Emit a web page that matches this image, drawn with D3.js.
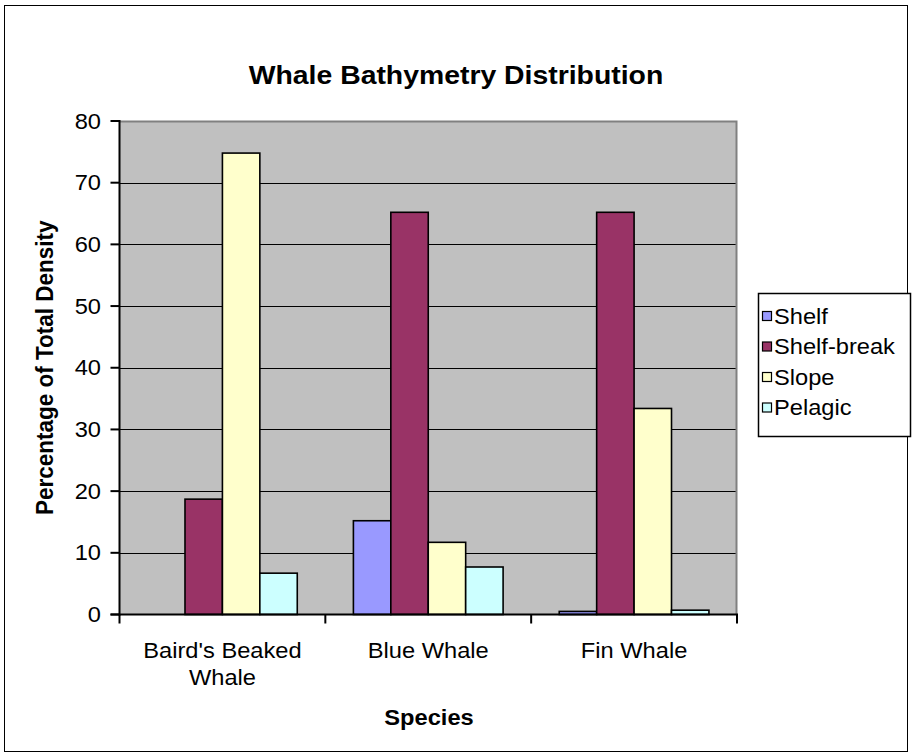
<!DOCTYPE html>
<html>
<head>
<meta charset="utf-8">
<script src="https://cdn.jsdelivr.net/npm/d3@7"></script>
<style>
  html, body { margin: 0; padding: 0; background: #fff; }
  svg { display: block; font-family: "Liberation Sans", Arial, sans-serif; }
</style>
</head>
<body>
<svg id="chart" width="912" height="755"></svg>
<script>
// Chart data
const species = ["Baird's Beaked Whale", "Blue Whale", "Fin Whale"];
const speciesLines = [["Baird's Beaked", "Whale"], ["Blue Whale"], ["Fin Whale"]];
const habitats = ["Shelf", "Shelf-break", "Slope", "Pelagic"];
const shelf = [0, 15.2, 0.5];
const shelfBreak = [18.7, 65.2, 65.2];
const slope = [74.8, 11.7, 33.4];
const pelagic = [6.7, 7.7, 0.7];
const yTicks = [0, 10, 20, 30, 40, 50, 60, 70, 80];
const colors = ["#9999FF", "#993366", "#FFFFCC", "#CCFFFF"];

const seriesValues = [shelf, shelfBreak, slope, pelagic];

const svg = d3.select("#chart");
const SX = 1.1;      // horizontal text stretch
const FS = 21.5;     // body text size
const FT = 25.8;     // title size

const plot = { left: 119.5, right: 737, top: 121, bottom: 614.5 };

const x = d3.scaleBand().domain(species).range([plot.left, plot.right]).paddingInner(0).paddingOuter(0);
const y = d3.scaleLinear().domain([0, 80]).range([plot.bottom, plot.top]);

// gap width 150% between groups
const barW = x.bandwidth() / (habitats.length + 1.5);
const groupOffset = barW * 0.75;

// outer chart border
svg.append("rect")
  .attr("x", 4.5).attr("y", 5.5).attr("width", 903).attr("height", 746)
  .attr("fill", "#fff").attr("stroke", "#000").attr("stroke-width", 1);

// plot background
svg.append("rect")
  .attr("x", plot.left).attr("y", plot.top)
  .attr("width", plot.right - plot.left).attr("height", plot.bottom - plot.top)
  .attr("fill", "#C0C0C0");

// gridlines
svg.append("g").selectAll("line")
  .data(yTicks.filter(t => t > 0 && t < 80))
  .join("line")
  .attr("x1", plot.left).attr("x2", plot.right)
  .attr("y1", d => Math.round(y(d)) + 0.5).attr("y2", d => Math.round(y(d)) + 0.5)
  .attr("stroke", "#000").attr("stroke-width", 1);

// top and right plot border
svg.append("path")
  .attr("d", `M${plot.left},${plot.top + 0.5}H${plot.right - 0.5}V${plot.bottom}`)
  .attr("fill", "none").attr("stroke", "#808080").attr("stroke-width", 2);

// bars
const rows = species.map((s, i) => habitats.map((h, j) => ({ s, h, j, v: seriesValues[j][i] })));
svg.append("g").selectAll("g")
  .data(rows)
  .join("g")
  .selectAll("rect")
  .data(d => d)
  .join("rect")
  .attr("x", d => x(d.s) + groupOffset + d.j * barW)
  .attr("y", d => y(d.v))
  .attr("width", barW)
  .attr("height", d => y(0) - y(d.v))
  .attr("fill", d => colors[d.j])
  .attr("stroke", "#000")
  .attr("stroke-width", 1.6);

// y axis
const yAxis = svg.append("g");
yAxis.append("line")
  .attr("x1", plot.left).attr("x2", plot.left)
  .attr("y1", plot.top - 1).attr("y2", plot.bottom + 1)
  .attr("stroke", "#000").attr("stroke-width", 2);
yAxis.selectAll("line.tick")
  .data(yTicks)
  .join("line")
  .attr("class", "tick")
  .attr("x1", plot.left - 9).attr("x2", plot.left)
  .attr("y1", d => y(d)).attr("y2", d => y(d))
  .attr("stroke", "#000").attr("stroke-width", 2);
yAxis.selectAll("g.lbl")
  .data(yTicks)
  .join("g")
  .attr("class", "lbl")
  .attr("transform", d => `translate(101,${y(d)}) scale(${SX},1)`)
  .append("text")
  .attr("text-anchor", "end")
  .attr("dy", "0.35em")
  .attr("font-size", FS)
  .text(d => d);

// x axis
const xAxis = svg.append("g");
xAxis.append("line")
  .attr("x1", plot.left - 9).attr("x2", plot.right + 1)
  .attr("y1", plot.bottom).attr("y2", plot.bottom)
  .attr("stroke", "#000").attr("stroke-width", 2);
const boundaries = species.map(s => x(s)).concat([x(species[species.length - 1]) + x.bandwidth()]);
xAxis.selectAll("line.tick")
  .data(boundaries)
  .join("line")
  .attr("class", "tick")
  .attr("x1", d => d).attr("x2", d => d)
  .attr("y1", plot.bottom).attr("y2", plot.bottom + 9)
  .attr("stroke", "#000").attr("stroke-width", 2);
xAxis.selectAll("g.lbl")
  .data(species)
  .join("g")
  .attr("class", "lbl")
  .attr("transform", d => `translate(${x(d) + x.bandwidth() / 2},658) scale(${SX},1)`)
  .each(function (d, i) {
    const t = d3.select(this).append("text")
      .attr("text-anchor", "middle")
      .attr("font-size", FS);
    speciesLines[i].forEach((line, k) => {
      t.append("tspan").attr("x", 0).attr("y", k * 27).text(line);
    });
  });

// titles
svg.append("g")
  .attr("transform", `translate(456,84) scale(${SX},1)`)
  .append("text")
  .attr("text-anchor", "middle")
  .attr("font-size", FT).attr("font-weight", "bold")
  .text("Whale Bathymetry Distribution");

svg.append("g")
  .attr("transform", `translate(429,725) scale(${SX},1)`)
  .append("text")
  .attr("text-anchor", "middle")
  .attr("font-size", FS).attr("font-weight", "bold")
  .text("Species");

svg.append("g")
  .attr("transform", `translate(53,${(plot.top + plot.bottom) / 2}) scale(${SX},1) rotate(-90)`)
  .append("text")
  .attr("text-anchor", "middle")
  .attr("font-size", 22.5).attr("font-weight", "bold")
  .text("Percentage of Total Density");

// legend
const legend = svg.append("g");
legend.append("rect")
  .attr("x", 758.5).attr("y", 293.5).attr("width", 152).attr("height", 143)
  .attr("fill", "#fff").attr("stroke", "#000").attr("stroke-width", 1.5);
const item = legend.selectAll("g.item")
  .data(habitats)
  .join("g")
  .attr("class", "item")
  .attr("transform", (d, i) => `translate(762,${316 + i * 30.5})`);
item.append("rect")
  .attr("x", 0.5).attr("y", -4.5).attr("width", 9).attr("height", 9)
  .attr("fill", (d, i) => colors[i]).attr("stroke", "#000").attr("stroke-width", 1.2);
item.append("g")
  .attr("transform", `translate(12,0) scale(${SX},1)`)
  .append("text")
  .attr("dy", "0.36em")
  .attr("font-size", FS)
  .text(d => d);
</script>
</body>
</html>
